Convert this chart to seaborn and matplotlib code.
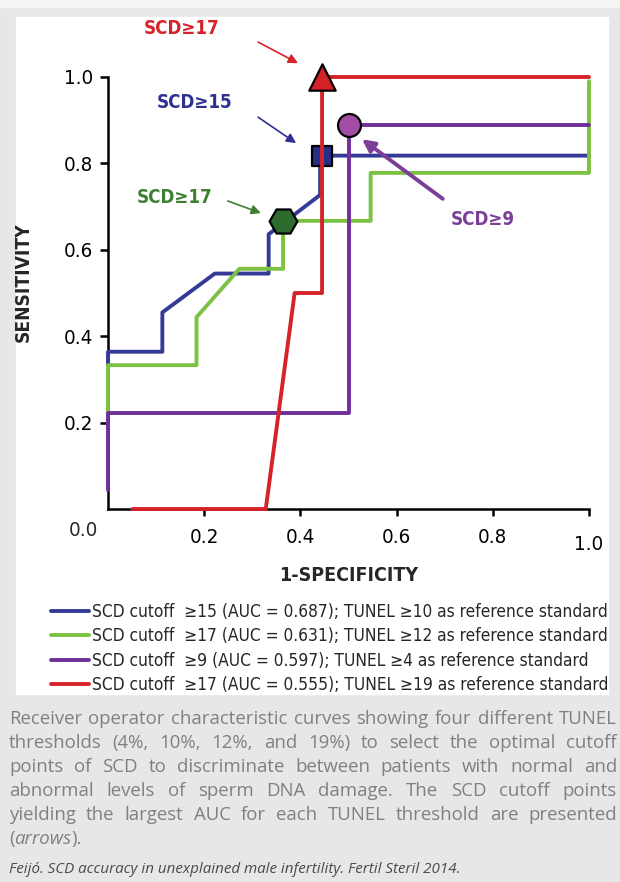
import os
import matplotlib
matplotlib.use("Agg")
import matplotlib.pyplot as plt
import matplotlib.transforms as mtransforms
from matplotlib import font_manager
from matplotlib.font_manager import FontProperties
from matplotlib.patches import Rectangle
import seaborn as sns

# ROC curves
blue_x = [0, 0, 0.113, 0.113, 0.222, 0.334, 0.334, 0.441, 0.441, 1.0]
blue_y = [0.333, 0.364, 0.364, 0.455, 0.545, 0.545, 0.636, 0.727, 0.818, 0.818]
green_x = [0, 0, 0.184, 0.184, 0.273, 0.364, 0.364, 0.546, 0.546, 1.0, 1.0]
green_y = [0.222, 0.333, 0.333, 0.444, 0.556, 0.556, 0.667, 0.667, 0.778, 0.778, 0.99]
purple_x = [0, 0, 0.5, 0.5, 1.0]
purple_y = [0.045, 0.222, 0.222, 0.889, 0.889]
red_x = [0.051, 0.328, 0.388, 0.445, 0.445, 1.0]
red_y = [0, 0, 0.5, 0.5, 1.0, 1.0]

# optimal cutoff points
pt_blue = (0.445, 0.818)
pt_green = (0.364, 0.666)
pt_purple = (0.5, 0.889)
pt_red = (0.445, 1.0)

legend_labels = [
    "SCD cutoff  \u226515 (AUC = 0.687); TUNEL \u226510 as reference standard",
    "SCD cutoff  \u226517 (AUC = 0.631); TUNEL \u226512 as reference standard",
    "SCD cutoff  \u22659 (AUC = 0.597); TUNEL \u22654 as reference standard",
    "SCD cutoff  \u226517 (AUC = 0.555); TUNEL \u226519 as reference standard",
]
tick_vals = [0.2, 0.4, 0.6, 0.8, 1.0]
tick_text = ["0.2", "0.4", "0.6", "0.8", "1.0"]

caption_lines = [
    "Receiver operator characteristic curves showing four different TUNEL",
    "thresholds (4%, 10%, 12%, and 19%) to select the optimal cutoff",
    "points of SCD to discriminate between patients with normal and",
    "abnormal levels of sperm DNA damage. The SCD cutoff points",
    "yielding the largest AUC for each TUNEL threshold are presented",
]
citation = "Feij\u00f3. SCD accuracy in unexplained male infertility. Fertil Steril 2014."

sns.set_style("white")


# pick a narrow sans if one is installed
def pick_narrow():
    ents = font_manager.fontManager.ttflist
    def narrow(f):
        b = os.path.basename(f.fname).lower()
        return ("narrow" in f.name.lower() or "condensed" in f.name.lower()
                or "condensed" in b or "narrow" in b
                or str(f.stretch) in ("condensed", "semi-condensed"))
    cands = [f for f in ents if narrow(f) and f.style == "normal"]
    cands.sort(key=lambda f: (0 if "Liberation" in f.name else
                              1 if "DejaVu Sans" in f.name else 2))
    if not cands:
        return FontProperties(family=["Roboto", "DejaVu Sans"]), \
            FontProperties(family=["Roboto", "DejaVu Sans"], weight="bold")
    fam = cands[0].name
    same = [f for f in cands if f.name == fam]
    def wnum(f):
        w = f.weight
        if isinstance(w, str):
            w = {"normal": 400, "regular": 400, "book": 400, "bold": 700}.get(w, 400)
        return w
    reg = min(same, key=lambda f: abs(wnum(f) - 400))
    bld = min(same, key=lambda f: abs(wnum(f) - 700))
    return FontProperties(fname=reg.fname), FontProperties(fname=bld.fname)


FP_REG, FP_BOLD = pick_narrow()
names = {f.name for f in font_manager.fontManager.ttflist}
CAP = "Open Sans" if "Open Sans" in names else "Lato"

BLUE, GREEN, PURPLE, RED = "#333b97", "#7cc142", "#70309a", "#d6232a"

W, H = 620, 882
fig = plt.figure(figsize=(W / 100, H / 100), dpi=100, facecolor="#e6e7e8")
fig.patches.append(Rectangle((0, 1 - 7 / H), 1, 7 / H, transform=fig.transFigure,
                             color="#f4f4f4", zorder=-10))
fig.patches.append(Rectangle((16 / W, 1 - 694 / H), 592 / W, 677 / H,
                             transform=fig.transFigure, color="white", zorder=-10))
fig.canvas.draw()
renderer = fig.canvas.get_renderer()


def sized(fp, text, target_px, base=14):
    p = fp.copy()
    p.set_size(base)
    t = fig.text(0, 0, text, fontproperties=p)
    w = t.get_window_extent(renderer).width
    t.remove()
    p.set_size(base * target_px / w)
    return p


fp_tick = sized(FP_REG, "0.4", 29)
fp_leg = sized(FP_REG, legend_labels[0], 518)
fp_xlab = sized(FP_BOLD, "1-SPECIFICITY", 140)
fp_ylab = sized(FP_BOLD, "SENSITIVITY", 119)
fp_note = sized(FP_BOLD, "SCD\u226517", 76)

ax = fig.add_axes([108 / W, 1 - 509 / H, 481 / W, 432 / H])
ax.set_facecolor("none")

lw = 2.8
sns.lineplot(x=blue_x, y=blue_y, sort=False, estimator=None, color=BLUE, lw=lw,
             ax=ax, label=legend_labels[0], clip_on=False, zorder=3)
sns.lineplot(x=green_x, y=green_y, sort=False, estimator=None, color=GREEN, lw=lw,
             ax=ax, label=legend_labels[1], clip_on=False, zorder=3)
sns.lineplot(x=purple_x, y=purple_y, sort=False, estimator=None, color=PURPLE, lw=lw,
             ax=ax, label=legend_labels[2], clip_on=False, zorder=3)

mk = dict(edgecolor="black", linewidth=1.6, clip_on=False, legend=False)
sns.scatterplot(x=[pt_green[0]], y=[pt_green[1]], marker="H", s=20 ** 2,
                color="#2e6b2e", ax=ax, zorder=5, **mk)
sns.scatterplot(x=[pt_blue[0]], y=[pt_blue[1]], marker="s", s=14 ** 2,
                color="#262f87", ax=ax, zorder=4, **mk)
sns.scatterplot(x=[pt_purple[0]], y=[pt_purple[1]], marker="o", s=16.5 ** 2,
                color="#a34ea6", ax=ax, zorder=5, **mk)
sns.lineplot(x=red_x, y=red_y, sort=False, estimator=None, color=RED, lw=lw,
             ax=ax, label=legend_labels[3], clip_on=False, zorder=4.5)
sns.scatterplot(x=[pt_red[0]], y=[pt_red[1]], marker="^", s=19 ** 2,
                color="#d42027", ax=ax, zorder=6, **mk)

ax.set_xlim(0, 1)
ax.set_ylim(0, 1)
sns.despine(ax=ax)
for sp in ("left", "bottom"):
    ax.spines[sp].set_linewidth(1.8)
    ax.spines[sp].set_color("black")
ax.set_xticks(tick_vals)
ax.set_xticklabels(tick_text, fontproperties=fp_tick)
ax.set_yticks(tick_vals)
ax.set_yticklabels(tick_text, fontproperties=fp_tick)
ax.tick_params(axis="x", length=5, width=1.8, pad=9, colors="black",
               direction="out", bottom=True)
ax.tick_params(axis="y", length=5.5, width=1.8, pad=5, colors="black",
               direction="out", left=True)
last = ax.get_xticklabels()[-1]
last.set_transform(last.get_transform() +
                   mtransforms.ScaledTranslation(0, -7 / 100, fig.dpi_scale_trans))
ax.annotate("0.0", xy=(0, 0), xytext=(-25, -21), textcoords="offset pixels",
            ha="center", va="center", fontproperties=fp_tick, annotation_clip=False)

ax.set_xlabel("1-SPECIFICITY", fontproperties=fp_xlab, labelpad=8)
ax.set_ylabel("SENSITIVITY", fontproperties=fp_ylab)
ax.yaxis.set_label_coords(-0.156, 0.524)

# arrow annotations
notes = [
    ("SCD\u226517", RED, (0.154, 1.113), (0.312, 1.081), (0.395, 1.032), 1.2),
    ("SCD\u226515", "#2e3192", (0.181, 0.940), (0.312, 0.907), (0.391, 0.847), 1.2),
    ("SCD\u226517", "#3f7f34", (0.139, 0.722), (0.249, 0.713), (0.318, 0.685), 1.2),
    ("SCD\u22659", "#7b3f98", (0.780, 0.669), (0.696, 0.718), (0.528, 0.856), 2.8),
]
for txt, col, tpos, tail, tip, alw in notes:
    ax.text(*tpos, txt, color=col, fontproperties=fp_note, ha="center",
            va="center", clip_on=False)
    ax.annotate("", xy=tip, xytext=tail, annotation_clip=False,
                arrowprops=dict(arrowstyle="-|>", color=col, lw=alw,
                                mutation_scale=14 if alw < 2 else 18,
                                shrinkA=0, shrinkB=0))

ax.legend_.remove()
handles, labels = ax.get_legend_handles_labels()
leg_px = fp_leg.get_size_in_points() * 100 / 72
fig.legend(handles, labels, loc="upper left", bbox_to_anchor=(51 / W, 1 - 603 / H),
           frameon=False, prop=fp_leg, handlelength=38 / leg_px,
           handletextpad=3 / leg_px, labelspacing=0.37, borderpad=0, borderaxespad=0)

# justified caption
fp_cap = sized(FontProperties(family=[CAP, "DejaVu Sans"]), caption_lines[0], 600)
cap_kw = dict(fontproperties=fp_cap, color="#808080", va="baseline")
x0, x1 = 9, 617
base = 724
for i, line in enumerate(caption_lines):
    words = line.split()
    objs = [fig.text(0, 1 - (base + 24 * i) / H, w, **cap_kw) for w in words]
    widths = [o.get_window_extent(renderer).width for o in objs]
    gap = (x1 - x0 - sum(widths)) / (len(words) - 1)
    x = x0
    for o, wd in zip(objs, widths):
        o.set_x(x / W)
        x += wd + gap
x = x0
for part, style in (("(", "normal"), ("arrows", "italic"), (").", "normal")):
    p = fp_cap.copy()
    p.set_style(style)
    t = fig.text(x / W, 1 - (base + 24 * 5) / H, part, fontproperties=p,
                 color="#808080", va="baseline")
    x += t.get_window_extent(renderer).width
fp_cit = sized(FontProperties(family=[CAP, "DejaVu Sans"], style="italic"), citation, 453)
fig.text(9 / W, 1 - 873 / H, citation, fontproperties=fp_cit, color="#4a4a4a",
         va="baseline")

fig.savefig("out.png", dpi=100, facecolor=fig.get_facecolor())
